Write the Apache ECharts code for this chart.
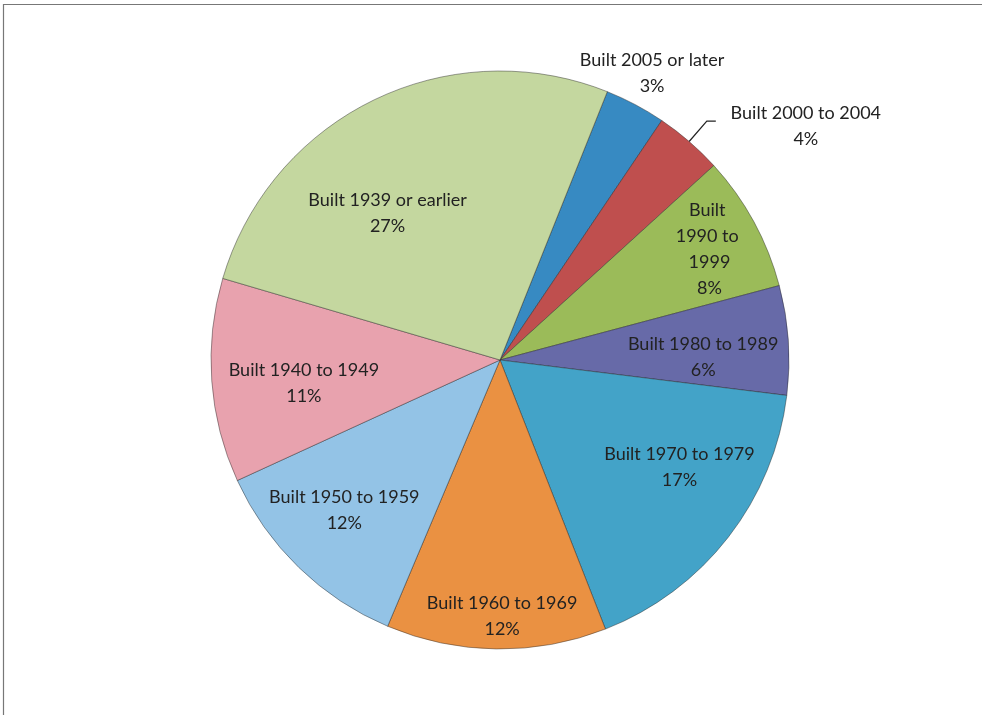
<!DOCTYPE html>
<html><head><meta charset="utf-8">
<script src="https://cdn.jsdelivr.net/npm/echarts@6/dist/echarts.min.js"></script>
<style>html,body{margin:0;padding:0;background:#fff}#c{width:982px;height:715px}</style>
</head><body><div id="c"></div>
<script>
// Data (clockwise from the first slice)
const categories = ['Built 2005 or later','Built 2000 to 2004','Built 1990 to 1999','Built 1980 to 1989','Built 1970 to 1979','Built 1960 to 1969','Built 1950 to 1959','Built 1940 to 1949','Built 1939 or earlier'];
const shares = [3.4, 3.8, 7.6, 6.1, 17.1, 12.3, 11.8, 11.4, 26.5];

// Styling
const colors = ['#378ac2','#bf4f4e','#9bbb59','#676aa8','#43a3c8','#ea9142','#93c3e6','#e8a2ae','#c4d79f'];
const labelNudge = [[83,-156],[0,0],[80,-40],[56,7],[63,17],[4,109],[-53,44],[-49,13],[-48,-14]];
const FONT = 'Lato';
const FS = 18;

const chart = echarts.init(document.getElementById('c'), null, {renderer:'canvas'});
const pct = v => Math.round(v) + '%';

const data = categories.map((name, i) => {
  const item = { name, value: shares[i], itemStyle: { color: colors[i] } };
  if (i === 1) {
    item.label = {
      position: 'outside',
      formatter: p => '{t|' + p.name + '}\n{t|' + pct(p.value) + '}',
      padding: [10, 0, 0, 0],
      distanceToLabelLine: 12,
      rich: { t: { width: 156, align: 'center', fontFamily: FONT, fontSize: FS, color: '#222', lineHeight: 26 } }
    };
    item.labelLine = { show: true, length: 27, length2: 9, smooth: false, lineStyle: { color: '#222', width: 1.2 } };
  } else if (i === 2) {
    item.label = { width: 72, overflow: 'break' };
  }
  return item;
});

chart.setOption({
  animation: false,
  backgroundColor: '#ffffff',
  graphic: [{
    type: 'rect', silent: true,
    shape: { x: 3.5, y: 4.5, width: 1200, height: 1200 },
    style: { fill: 'none', stroke: '#777', lineWidth: 1.2 }
  }],
  series: [{
    type: 'pie',
    center: [500, 360],
    radius: 289,
    startAngle: 68.2,
    clockwise: true,
    avoidLabelOverlap: false,
    itemStyle: { borderColor: 'rgba(35,35,35,0.55)', borderWidth: 0.8 },
    label: {
      show: true,
      position: 'inside',
      formatter: p => p.name + '\n' + pct(p.value),
      fontFamily: FONT,
      fontSize: FS,
      color: '#222',
      lineHeight: 26,
      align: 'center'
    },
    labelLine: { show: false },
    emphasis: { disabled: true },
    labelLayout: p => {
      const n = labelNudge[p.dataIndex];
      if (p.dataIndex === 1) return {};
      return { dx: n[0], dy: n[1] };
    },
    data
  }]
});
</script>
</body></html>
